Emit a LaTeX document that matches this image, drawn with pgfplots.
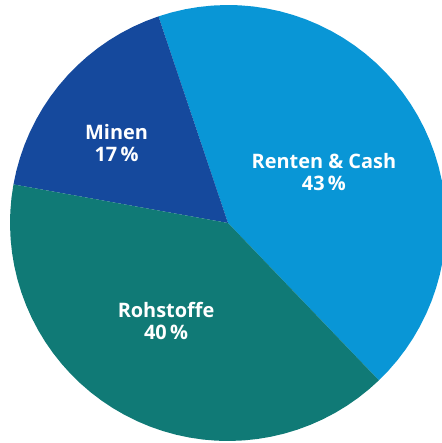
\documentclass[border=0pt]{standalone}
\usepackage{pgfplots}
\pgfplotsset{compat=1.18}
\usepackage{fontspec}
\setmainfont{Open Sans}
\definecolor{renten}{HTML}{0996D6}
\definecolor{minen}{HTML}{15499D}
\definecolor{rohstoffe}{HTML}{107A76}
\tikzset{lbl/.style={text=white, align=center, font=\fontsize{20}{21.7}\selectfont\bfseries}}

\begin{document}
\begin{tikzpicture}
\begin{axis}[
  width=436bp, height=436bp, scale only axis,
  xmin=-1, xmax=1, ymin=-1, ymax=1,
  hide axis, clip=false,
  every axis plot/.append style={data cs=polar, draw=none},
]
% Renten & Cash, 43 % (one point per percent along the rim)
\addplot[fill=renten] coordinates {
 (0,0) (-46.2,1) (-42.6,1) (-39.0,1) (-35.4,1) (-31.8,1) (-28.2,1) (-24.6,1) (-21.0,1)
 (-17.4,1) (-13.8,1) (-10.2,1) (-6.6,1) (-3.0,1) (0.6,1) (4.2,1) (7.8,1) (11.4,1)
 (15.0,1) (18.6,1) (22.2,1) (25.8,1) (29.4,1) (33.0,1) (36.6,1) (40.2,1) (43.8,1)
 (47.4,1) (51.0,1) (54.6,1) (58.2,1) (61.8,1) (65.4,1) (69.0,1) (72.6,1) (76.2,1)
 (79.8,1) (83.4,1) (87.0,1) (90.6,1) (94.2,1) (97.8,1) (101.4,1) (105.0,1) (108.6,1)
 (0,0)
};
% Minen, 17 %
\addplot[fill=minen] coordinates {
 (0,0) (108.6,1) (112.2,1) (115.8,1) (119.4,1) (123.0,1) (126.6,1) (130.2,1) (133.8,1)
 (137.4,1) (141.0,1) (144.6,1) (148.2,1) (151.8,1) (155.4,1) (159.0,1) (162.6,1)
 (166.2,1) (169.8,1) (0,0)
};
% Rohstoffe, 40 %
\addplot[fill=rohstoffe] coordinates {
 (0,0) (169.8,1) (173.4,1) (177.0,1) (180.6,1) (184.2,1) (187.8,1) (191.4,1) (195.0,1)
 (198.6,1) (202.2,1) (205.8,1) (209.4,1) (213.0,1) (216.6,1) (220.2,1) (223.8,1)
 (227.4,1) (231.0,1) (234.6,1) (238.2,1) (241.8,1) (245.4,1) (249.0,1) (252.6,1)
 (256.2,1) (259.8,1) (263.4,1) (267.0,1) (270.6,1) (274.2,1) (277.8,1) (281.4,1)
 (285.0,1) (288.6,1) (292.2,1) (295.8,1) (299.4,1) (303.0,1) (306.6,1) (310.2,1)
 (313.8,1) (0,0)
};
\coordinate (c) at (axis cs:0,0);
\node[lbl] at (axis cs:0.440,0.234) {Renten \& Cash\\43\,\%};
\node[lbl] at (axis cs:-0.511,0.367) {Minen\\17\,\%};
\node[lbl] at (axis cs:-0.284,-0.450) {Rohstoffe\\40\,\%};
\end{axis}
\pgfresetboundingbox
\path[use as bounding box] (c) ++(-228bp,-220bp) rectangle ++(442bp,443bp);
\end{tikzpicture}
\end{document}
